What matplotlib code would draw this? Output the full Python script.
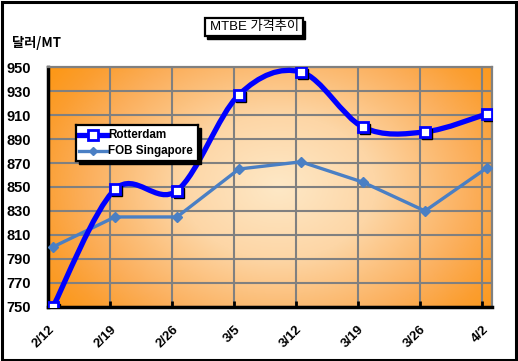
import matplotlib.pyplot as plt
import numpy as np
from matplotlib.path import Path
from matplotlib.patches import PathPatch, Rectangle
from matplotlib.colors import LinearSegmentedColormap
import matplotlib.transforms as mtransforms

plt.rcParams['font.family'] = ['Liberation Sans', 'Noto Sans CJK KR', 'DejaVu Sans']

dates = ['2/12', '2/19', '2/26', '3/5', '3/12', '3/19', '3/26', '4/2']
rotterdam = [750, 848, 847, 927, 946, 900, 896, 911]
singapore = [800, 825, 825, 865, 871, 854, 830, 866]
yticks = list(range(750, 951, 20))

fig = plt.figure(figsize=(5.18, 3.61), dpi=100)
fig.patch.set_facecolor('white')
fig.patches.append(Rectangle((0.004, 0.004), 0.992, 0.99, transform=fig.transFigure,
                             fill=False, edgecolor='black', lw=2.2))

ax = fig.add_axes([0.0927, 0.150, 0.857, 0.664])
x = np.arange(len(dates)) + 0.08

# radial orange background
gx, gy = np.meshgrid(np.linspace(0, 1, 300), np.linspace(0, 1, 200))
r = np.sqrt(((gx - 0.52) / 0.62) ** 2 + ((gy - 0.50) / 0.85) ** 2)
r = np.clip(r, 0, 1)
cmap = LinearSegmentedColormap.from_list(
    'bg', [(0, '#fee8c6'), (0.35, '#fdd6a6'), (0.7, '#fbaf5c'), (0.88, '#fb9e30'), (1, '#fd9818')])
ax.imshow(r, cmap=cmap, extent=[0, 1, 0, 1], transform=ax.transAxes,
          origin='lower', aspect='auto', zorder=0, interpolation='bilinear')

ax.set_xlim(0, 7.16)
ax.set_ylim(750, 950)
ax.set_yticks(yticks)
ax.set_xticks(range(len(dates)))
ax.set_xticklabels(dates, rotation=45, ha='right', va='top', fontsize=9.5, fontweight='bold',
                   rotation_mode='anchor')
ax.set_yticklabels([str(v) for v in yticks], fontsize=10.5, fontweight='bold')
ax.tick_params(axis='y', length=0, pad=12)
ax.tick_params(axis='x', length=4, width=2, direction='in', pad=12)
ax.grid(True, color='#808080', lw=1.5, zorder=1)
for s in ['top', 'right']:
    ax.spines[s].set_color('#808080')
    ax.spines[s].set_linewidth(1.6)
for s in ['left', 'bottom']:
    ax.spines[s].set_color('black')
    ax.spines[s].set_linewidth(2.5)

# smoothed Rotterdam line (Bezier through points)
sx = 60.0
sy = 1.2
px = x * sx
py = np.array(rotterdam) * sy
verts = [(px[0], py[0])]
codes = [Path.MOVETO]
n = len(px)
for i in range(n - 1):
    p0 = (px[max(i - 1, 0)], py[max(i - 1, 0)])
    p1 = (px[i], py[i])
    p2 = (px[i + 1], py[i + 1])
    p3 = (px[min(i + 2, n - 1)], py[min(i + 2, n - 1)])
    c1 = (p1[0] + (p2[0] - p0[0]) / 6, p1[1] + (p2[1] - p0[1]) / 6)
    c2 = (p2[0] - (p3[0] - p1[0]) / 6, p2[1] - (p3[1] - p1[1]) / 6)
    verts += [c1, c2, p2]
    codes += [Path.CURVE4] * 3
verts = [(vx / sx, vy / sy) for vx, vy in verts]
ax.add_patch(PathPatch(Path(verts, codes), fill=False, edgecolor='#0000ff', lw=3.8,
                       zorder=4, capstyle='round', joinstyle='round'))

ax.plot(x, singapore, color='#4a7fc4', lw=2.4, marker='D', ms=5.5,
        markerfacecolor='#4a7fc4', markeredgecolor='#4a7fc4', zorder=3)

shadow = mtransforms.offset_copy(ax.transData, fig=fig, x=1.5, y=-1.5, units='points')
ax.plot(x, rotterdam, ls='none', marker='s', ms=7.5, color='black', transform=shadow, zorder=5)
ax.plot(x, rotterdam, ls='none', marker='s', ms=7.5, markerfacecolor='white',
        markeredgecolor='#0000ff', markeredgewidth=2, zorder=6)

# legend with shadow
fig.patches.append(Rectangle((0.153, 0.546), 0.235, 0.100, transform=fig.transFigure,
                             color='black', zorder=10))
lax = fig.add_axes([0.147, 0.554, 0.235, 0.100], zorder=11)
lax.set_xlim(0, 1)
lax.set_ylim(0, 1)
lax.set_xticks([])
lax.set_yticks([])
for s in lax.spines.values():
    s.set_linewidth(1.6)
    s.set_color('black')
lax.plot([0.02, 0.25], [0.72, 0.72], color='#0000ff', lw=3.8)
lax.plot([0.135], [0.72], marker='s', ms=6.5, markerfacecolor='white', markeredgecolor='#0000ff', markeredgewidth=2)
lax.plot([0.02, 0.25], [0.27, 0.27], color='#4a7fc4', lw=2.4)
lax.plot([0.135], [0.27], marker='D', ms=4, color='#4a7fc4')
lax.text(0.265, 0.72, 'Rotterdam', va='center', ha='left', fontsize=8.4, fontweight='bold')
lax.text(0.265, 0.27, 'FOB Singapore', va='center', ha='left', fontsize=8.4, fontweight='bold')

# title box
fig.patches.append(Rectangle((0.400, 0.892), 0.189, 0.050, transform=fig.transFigure,
                             facecolor='black', edgecolor='black', zorder=1))
fig.patches.append(Rectangle((0.396, 0.900), 0.189, 0.050, transform=fig.transFigure,
                             facecolor='white', edgecolor='black', lw=1.6, zorder=2))
fig.text(0.4905, 0.925, 'MTBE 가격추이', ha='center', va='center', fontsize=9.5, zorder=3,
         family=['Liberation Sans', 'Noto Sans CJK KR'])

fig.text(0.023, 0.88, '달러/MT', ha='left', va='center', fontsize=9.5, fontweight='bold',
         family=['Noto Sans CJK KR', 'DejaVu Sans'])

fig.savefig('out.png', dpi=100)
